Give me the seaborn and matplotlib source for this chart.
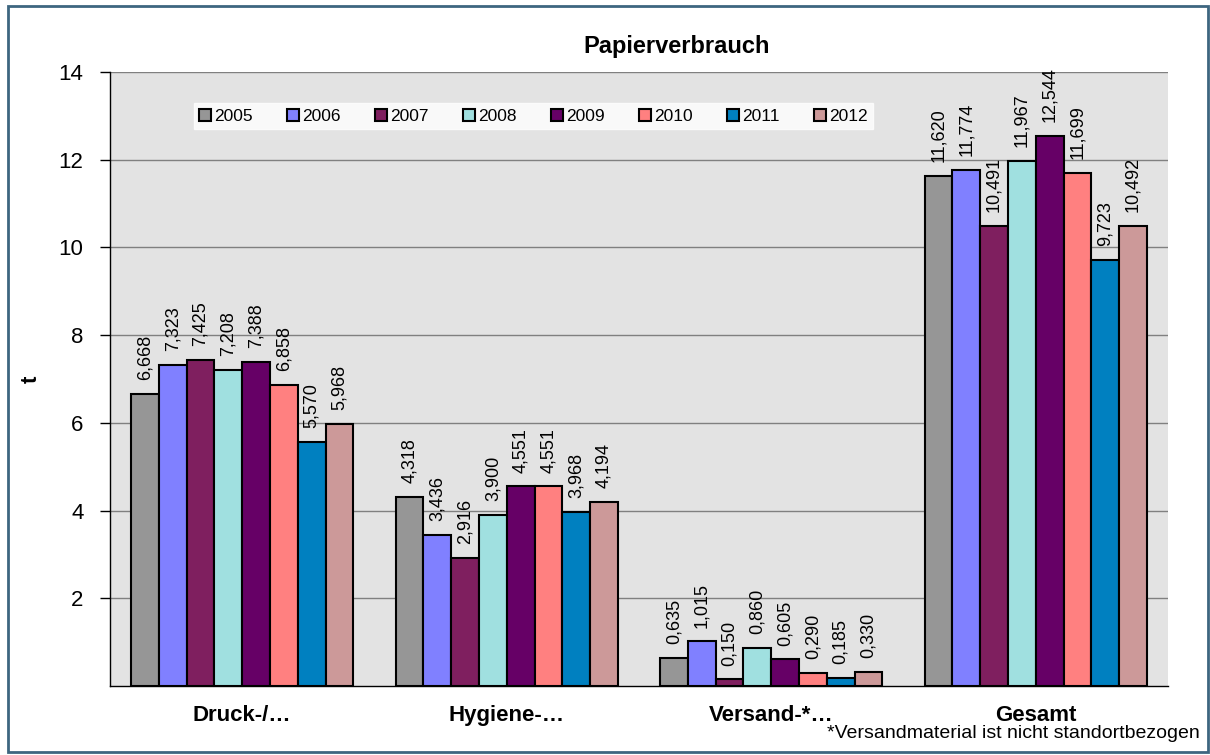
import pandas as pd
import matplotlib.pyplot as plt
import seaborn as sns
from matplotlib.patches import Rectangle

# Daten aus dem Diagramm
kategorien = ["Druck-/…", "Hygiene-…", "Versand-*…", "Gesamt"]
jahre = ["2005", "2006", "2007", "2008", "2009", "2010", "2011", "2012"]
druck = [6.668, 7.323, 7.425, 7.208, 7.388, 6.858, 5.570, 5.968]
hygiene = [4.318, 3.436, 2.916, 3.900, 4.551, 4.551, 3.968, 4.194]
versand = [0.635, 1.015, 0.150, 0.860, 0.605, 0.290, 0.185, 0.330]
gesamt = [11.620, 11.774, 10.491, 11.967, 12.544, 11.699, 9.723, 10.492]
farben = ["#969696", "#8080FF", "#7F1F5F", "#A0E0E0", "#660066", "#FF8080", "#0080C0", "#CC9999"]

werte = {"Druck-/…": druck, "Hygiene-…": hygiene, "Versand-*…": versand, "Gesamt": gesamt}
df = pd.DataFrame([(k, j, v) for k in kategorien for j, v in zip(jahre, werte[k])],
                  columns=["Kategorie", "Jahr", "Tonnen"])

sns.set_theme(style="white")
plt.rcParams['font.family'] = ['Liberation Sans', 'DejaVu Sans']
plt.rcParams.update({"text.color": "black", "axes.labelcolor": "black",
                     "xtick.color": "black", "ytick.color": "black"})

fig = plt.figure(figsize=(12.1, 7.55), dpi=100)
ax = fig.add_axes([110 / 1210, 1 - 686 / 755, 1058 / 1210, 614 / 755])
ax.set_facecolor("#E3E3E3")

sns.barplot(data=df, x="Kategorie", y="Tonnen", hue="Jahr", hue_order=jahre,
            order=kategorien, palette=farben, width=0.84, gap=0,
            edgecolor="black", linewidth=1.5, ax=ax, saturation=1)

# Werte über den Säulen, senkrecht
for c in ax.containers:
    ax.bar_label(c, labels=[f"{b.get_height():.3f}".replace(".", ",") for b in c],
                 rotation=90, padding=10, fontsize=13, color="black")

ax.set_ylim(0, 14)
ax.set_yticks(range(2, 15, 2))
ax.tick_params(axis="y", labelsize=16, length=7, width=1, direction="out", left=True, pad=12)
ax.tick_params(axis="x", labelsize=16, length=0, pad=14)
for lbl in ax.get_xticklabels():
    lbl.set_fontweight("bold")
ax.yaxis.grid(True, color="#808080", linewidth=1)
ax.set_axisbelow(True)
for s in ["top", "right"]:
    ax.spines[s].set_visible(False)
for s in ["left", "bottom"]:
    ax.spines[s].set_color("black")
    ax.spines[s].set_linewidth(1)
ax.set_xlabel("")
ax.set_ylabel("t", fontsize=16, fontweight="bold")
ax.yaxis.set_label_coords((42 - 110) / 1058, 0.5)
fig.text(677 / 1210, 1 - 46 / 755, "Papierverbrauch", ha="center", va="center",
         fontsize=17, fontweight="bold")

# Legende
handles, labels = ax.get_legend_handles_labels()
leg = ax.legend(handles, labels, ncol=8, loc="center", bbox_to_anchor=(0.4, 0.928),
                frameon=True, fancybox=False, fontsize=12.5, handlelength=0.7, handleheight=0.7,
                handletextpad=0.15, columnspacing=2.0, borderpad=0.3)
leg.get_frame().set_facecolor("white")
leg.get_frame().set_edgecolor("white")

fig.text(1200 / 1210, 1 - 734 / 755, "*Versandmaterial ist nicht standortbezogen",
         ha="right", va="center", fontsize=14)

# Rahmen um die ganze Grafik
fig.patches.append(Rectangle((8 / 1210, 3 / 755), 1200 / 1210, 746 / 755, transform=fig.transFigure,
                             fill=False, edgecolor="#3D6680", linewidth=2))

fig.savefig("out.png", dpi=100)
